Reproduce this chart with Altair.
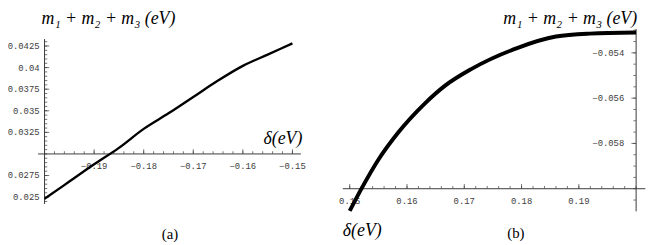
import altair as alt
import pandas as pd

# ---------------- data ----------------
a_delta = [-0.200, -0.195, -0.190, -0.185, -0.180, -0.175, -0.170, -0.165, -0.160, -0.155, -0.150]
a_sum = [0.0248, 0.0268, 0.0288, 0.0307, 0.0329, 0.0347, 0.0366, 0.0385, 0.0402, 0.0415, 0.0428]

b_delta = [0.1500, 0.1522, 0.1550, 0.1584, 0.1631, 0.1666, 0.1712, 0.1791, 0.1860, 0.1919, 0.2000]
b_sum = [-0.06098, -0.05993, -0.05872, -0.05754, -0.05624, -0.05546, -0.05472,
         -0.05380, -0.05328, -0.05315, -0.05310]

a_x_ticks = [-0.19, -0.18, -0.17, -0.16, -0.15]
a_x_labels = ["\u22120.19", "\u22120.18", "\u22120.17", "\u22120.16", "\u22120.15"]
a_y_ticks = [0.025, 0.0275, 0.0325, 0.035, 0.0375, 0.04, 0.0425]
a_y_labels = ["0.025", "0.0275", "0.0325", "0.035", "0.0375", "0.04", "0.0425"]

b_x_ticks = [0.15, 0.16, 0.17, 0.18, 0.19]
b_x_labels = ["0.15", "0.16", "0.17", "0.18", "0.19"]
b_y_ticks = [-0.054, -0.056, -0.058]
b_y_labels = ["\u22120.054", "\u22120.056", "\u22120.058"]

title_text = "m\u2081 + m\u2082 + m\u2083 (eV)"
xlabel_text = "\u03b4(eV)"

# axis crossing points
a_x0, a_y0 = -0.2, 0.03
b_x0, b_y0 = 0.2, -0.06

a_x_minor = [round(-0.2 + 0.002 * i, 4) for i in range(26)]
a_y_minor = [round(0.0245 + 0.0005 * i, 5) for i in range(38)]
b_x_minor = [round(0.15 + 0.002 * i, 4) for i in range(26)]
b_y_minor = [round(-0.0605 + 0.0005 * i, 5) for i in range(16)]

# ---------------- scales ----------------
xs_a = alt.Scale(domain=[-0.2, -0.15], range=[37, 288], nice=False, zero=False)
ys_a = alt.Scale(domain=[0.025, 0.0425], range=[190, 37], nice=False, zero=False)
xs_b = alt.Scale(domain=[0.15, 0.2], range=[346, 636], nice=False, zero=False)
ys_b = alt.Scale(domain=[-0.06, -0.053], range=[181.5, 21], nice=False, zero=False)


def X(f, s):
    return alt.X(f"{f}:Q", scale=s, axis=None)


def Y(f, s):
    return alt.Y(f"{f}:Q", scale=s, axis=None)


AX = "#3a3a3a"
LBL = "#404040"
TICKFONT = "Liberation Mono"
SERIF = "Liberation Serif"


def panel(xs, ys, x0, y0, hx, vy, xt, xl, yt, yl, xmin, ymin,
          ytick_dir, ylab_dx, line_df, line_w, title_df, title_kw, dlab_df, dlab_kw,
          tag_df, tag_dy):
    layers = []
    # axis lines
    h = pd.DataFrame({"x": [hx[0]], "x2": [hx[1]], "y": [y0]})
    layers.append(alt.Chart(h).mark_rule(color=AX, strokeWidth=1).encode(
        x=X("x", xs), x2="x2", y=Y("y", ys)))
    v = pd.DataFrame({"x": [x0], "y": [vy[0]], "y2": [vy[1]]})
    layers.append(alt.Chart(v).mark_rule(color=AX, strokeWidth=1).encode(
        x=X("x", xs), y=Y("y", ys), y2="y2"))
    # x ticks
    mx = pd.DataFrame({"x": xmin, "y": [y0] * len(xmin)})
    layers.append(alt.Chart(mx).mark_tick(orient="vertical", size=2.5, thickness=1,
                                          color=AX, yOffset=-1.5).encode(
        x=X("x", xs), y=Y("y", ys)))
    Mx = pd.DataFrame({"x": xt, "y": [y0] * len(xt)})
    layers.append(alt.Chart(Mx).mark_tick(orient="vertical", size=4.5, thickness=1,
                                          color=AX, yOffset=-2.5).encode(
        x=X("x", xs), y=Y("y", ys)))
    # y ticks
    my = pd.DataFrame({"x": [x0] * len(ymin), "y": ymin})
    layers.append(alt.Chart(my).mark_tick(orient="horizontal", size=2.5, thickness=1,
                                          color=AX, xOffset=1.5 * ytick_dir).encode(
        x=X("x", xs), y=Y("y", ys)))
    My = pd.DataFrame({"x": [x0] * len(yt), "y": yt})
    layers.append(alt.Chart(My).mark_tick(orient="horizontal", size=4.5, thickness=1,
                                          color=AX, xOffset=2.5 * ytick_dir).encode(
        x=X("x", xs), y=Y("y", ys)))
    # tick labels
    lx = pd.DataFrame({"x": xt, "y": [y0] * len(xt), "t": xl})
    layers.append(alt.Chart(lx).mark_text(font=TICKFONT, fontSize=9, color=LBL,
                                          baseline="alphabetic", align="center", dy=15).encode(
        x=X("x", xs), y=Y("y", ys), text="t:N"))
    ly = pd.DataFrame({"x": [x0] * len(yt), "y": yt, "t": yl})
    layers.append(alt.Chart(ly).mark_text(font=TICKFONT, fontSize=9, color=LBL,
                                          baseline="middle", align="right", dx=ylab_dx).encode(
        x=X("x", xs), y=Y("y", ys), text="t:N"))
    # axis titles
    layers.append(alt.Chart(title_df).mark_text(font=SERIF, fontStyle="italic", fontSize=18,
                                                color="black", baseline="top",
                                                **title_kw).encode(
        x=X("x", xs), y=Y("y", ys), text="t:N"))
    layers.append(alt.Chart(dlab_df).mark_text(font=SERIF, fontStyle="italic", fontSize=18,
                                               color="black", baseline="alphabetic",
                                               **dlab_kw).encode(
        x=X("x", xs), y=Y("y", ys), text="t:N"))
    layers.append(alt.Chart(tag_df).mark_text(font=SERIF, fontSize=15, color="black",
                                              baseline="alphabetic", align="center",
                                              dy=tag_dy).encode(
        x=X("x", xs), y=Y("y", ys), text="t:N"))
    # curve
    layers.append(alt.Chart(line_df).mark_line(color="black", strokeWidth=line_w,
                                               strokeCap="butt", interpolate="monotone").encode(
        x=X("x", xs), y=Y("y", ys), order="x:Q"))
    return layers


line_a = pd.DataFrame({"x": a_delta, "y": a_sum})
line_b = pd.DataFrame({"x": b_delta, "y": b_sum})

layers_a = panel(
    xs_a, ys_a, a_x0, a_y0,
    hx=(-0.2013, -0.1483), vy=(0.0242, 0.0433),
    xt=a_x_ticks, xl=a_x_labels, yt=a_y_ticks, yl=a_y_labels,
    xmin=a_x_minor, ymin=a_y_minor, ytick_dir=1, ylab_dx=-5,
    line_df=line_a, line_w=2.4,
    title_df=pd.DataFrame({"x": [-0.2], "y": [0.0425], "t": [title_text]}),
    title_kw=dict(align="left", dx=-3, dy=-36),
    dlab_df=pd.DataFrame({"x": [-0.15], "y": [0.03], "t": [xlabel_text]}),
    dlab_kw=dict(align="right", dx=10, dy=-10),
    tag_df=pd.DataFrame({"x": [-0.1747], "y": [0.025], "t": ["(a)"]}),
    tag_dy=42,
)

layers_b = panel(
    xs_b, ys_b, b_x0, b_y0,
    hx=(0.1488, 0.2016), vy=(-0.061, -0.05295),
    xt=b_x_ticks, xl=b_x_labels, yt=b_y_ticks, yl=b_y_labels,
    xmin=b_x_minor, ymin=b_y_minor, ytick_dir=-1, ylab_dx=-12,
    line_df=line_b, line_w=4,
    title_df=pd.DataFrame({"x": [0.2], "y": [-0.053], "t": [title_text]}),
    title_kw=dict(align="right", dx=1, dy=-20),
    dlab_df=pd.DataFrame({"x": [0.1488], "y": [-0.06], "t": [xlabel_text]}),
    dlab_kw=dict(align="left", dx=0, dy=48),
    tag_df=pd.DataFrame({"x": [0.1790], "y": [-0.06], "t": ["(b)"]}),
    tag_dy=50,
)

chart = alt.layer(*(layers_a + layers_b)).resolve_scale(
    x="independent", y="independent"
).properties(
    width=646, height=237, autosize=alt.AutoSizeParams(type="none"), padding=0,
    background="white",
).configure_view(stroke=None)

chart.save("out.html", embed_options={"renderer": "svg", "actions": False})
